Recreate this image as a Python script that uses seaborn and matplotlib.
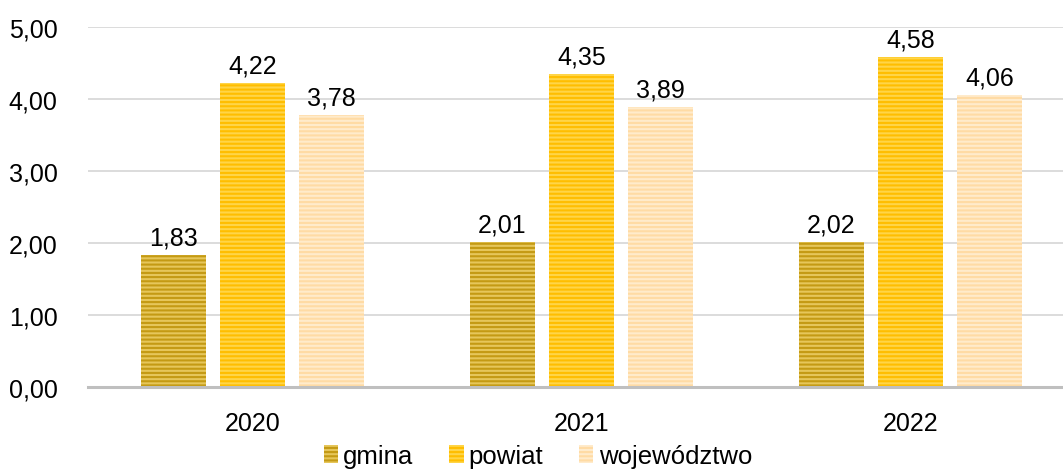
import matplotlib
matplotlib.use("Agg")
import matplotlib.pyplot as plt
from matplotlib.patches import Patch
import seaborn as sns
import pandas as pd

years = ["2020", "2021", "2022"]
series = ["gmina", "powiat", "województwo"]
gmina = [1.83, 2.01, 2.02]
powiat = [4.22, 4.35, 4.58]
wojewodztwo = [3.78, 3.89, 4.06]
yticks = [0, 1, 2, 3, 4, 5]

face_colors = ["#E6C65A", "#FFD548", "#FFEBCB"]
stripe_colors = ["#C49A14", "#FFBE00", "#FFDBA4"]

df = pd.DataFrame({
    "rok": years * 3,
    "seria": [s for s in series for _ in years],
    "wartosc": gmina + powiat + wojewodztwo,
})

sns.set_style("white")
plt.rcParams["font.family"] = ["Liberation Sans", "DejaVu Sans"]
plt.rcParams["hatch.linewidth"] = 1.5
plt.rcParams["text.color"] = "black"
plt.rcParams["xtick.color"] = "black"
plt.rcParams["ytick.color"] = "black"

fig = plt.figure(figsize=(10.63, 4.77), dpi=100)
ax = fig.add_axes([88 / 1063, (477 - 388) / 477, 1 - 88 / 1063, (388 - 28) / 477])

sns.barplot(data=df, x="rok", y="wartosc", hue="seria", hue_order=series,
            order=years, palette=face_colors, width=0.72, gap=0.18,
            ax=ax, legend=False, saturation=1)

for cont, fc, sc in zip(ax.containers, face_colors, stripe_colors):
    for p in cont:
        p.set_facecolor(fc)
        p.set_edgecolor(sc)
        p.set_linewidth(0)
        p.set_hatch("----")
    ax.bar_label(cont, labels=[f"{v:.2f}".replace(".", ",") for v in cont.datavalues],
                 padding=4, fontsize=18, color="black")

ax.set_ylim(0, 5)
ax.set_xlim(-0.5, 2.5 - 12 / 329)
ax.set_yticks(yticks)
ax.set_yticklabels([f"{v:.2f}".replace(".", ",") for v in yticks], fontsize=18)
ax.tick_params(axis="x", labelsize=18, length=0, pad=17, colors="black")
ax.tick_params(axis="y", length=0, pad=22, colors="black")
ax.set_xlabel("")
ax.set_ylabel("")
ax.yaxis.grid(True, color="#D9D9D9", linewidth=1.3)
ax.set_axisbelow(True)
for s in ["top", "right", "left"]:
    ax.spines[s].set_visible(False)
ax.spines["bottom"].set_color("#BFBFBF")
ax.spines["bottom"].set_linewidth(2.2)

handles = [Patch(facecolor=fc, edgecolor=sc, linewidth=0, hatch="----", label=s)
           for s, fc, sc in zip(series, face_colors, stripe_colors)]
fig.legend(handles=handles, loc="lower center", bbox_to_anchor=(538 / 1063, -0.032),
           ncol=3, frameon=False, fontsize=18.5, handlelength=0.55, handleheight=0.7,
           handletextpad=0.2, columnspacing=1.4)

fig.savefig("out.png", dpi=100)
